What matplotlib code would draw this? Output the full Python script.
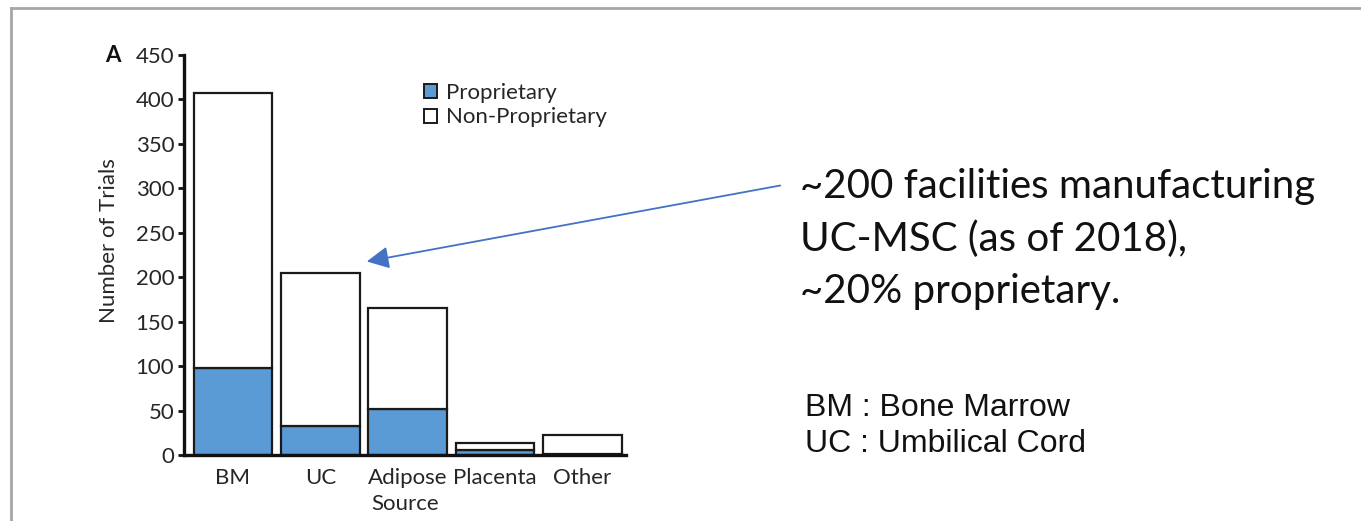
import matplotlib
matplotlib.use("Agg")
import matplotlib.pyplot as plt
from matplotlib.lines import Line2D
from matplotlib.patches import Patch, FancyArrowPatch
import numpy as np

# MSC clinical trials by tissue source
sources = ["BM", "UC", "Adipose", "Placenta", "Other"]
proprietary = [98, 33, 52, 6, 1]
non_proprietary = [309, 172, 113, 7, 21]
y_ticks = [0, 50, 100, 150, 200, 250, 300, 350, 400, 450]

blue = "#5B9BD5"
edge = "#1a1a1a"
text_col = "#262626"
chart_font = ["Lato", "DejaVu Sans"]
fs = 16

fig = plt.figure(figsize=(13.61, 5.21), dpi=100)
ax = fig.add_axes([184 / 1361, 66 / 521, 442 / 1361, 400 / 521])

x = np.arange(len(sources))
ax.bar(x, proprietary, width=0.9, color=blue, edgecolor=edge, linewidth=1.6,
       label="Proprietary", zorder=2)
ax.bar(x, non_proprietary, width=0.9, bottom=proprietary, color="white",
       edgecolor=edge, linewidth=1.6, label="Non-Proprietary", zorder=2)

ax.set_xlim(-0.56, 4.5)
ax.set_ylim(0, 450)
ax.set_yticks(y_ticks)
ax.set_xticks(x)
ax.set_xticklabels(sources, fontfamily=chart_font, fontsize=fs, color=text_col)
for lab in ax.get_yticklabels():
    lab.set_fontfamily(chart_font)
    lab.set_fontsize(fs)
    lab.set_color(text_col)
ax.tick_params(axis="y", direction="out", length=4, width=2, pad=3, color="#111")
ax.tick_params(axis="x", length=0, pad=9)

for side in ("top", "right"):
    ax.spines[side].set_visible(False)
for side in ("left", "bottom"):
    ax.spines[side].set_linewidth(2.4)
    ax.spines[side].set_color("#111")

ax.set_ylabel("Number of Trials", fontfamily=chart_font, fontsize=fs, color=text_col)
ax.yaxis.set_label_coords(-0.148, 0.535)
ax.set_xlabel("Source", fontfamily=chart_font, fontsize=fs, color=text_col, labelpad=5)

# panel letter
fig.text(113 / 1361, 1 - 55 / 521, "A", fontfamily=chart_font, fontweight="bold",
         fontsize=16, ha="center", va="center", color="#111")

# legend with square swatches
handles = [Patch(facecolor=blue, edgecolor=edge, linewidth=1.4, label="Proprietary"),
           Patch(facecolor="white", edgecolor=edge, linewidth=1.4, label="Non-Proprietary")]
fig.legend(handles=handles, loc="upper left", bbox_to_anchor=(424 / 1361, 1 - 83 / 521),
           frameon=False, handlelength=0.6, handleheight=0.6, handletextpad=0.4,
           labelspacing=0.2, borderpad=0, borderaxespad=0,
           prop={"family": chart_font, "size": fs}, labelcolor=text_col)

# annotation text and arrow
fig.text(800 / 1361, 1 - 239 / 521,
         "~200 facilities manufacturing\nUC-MSC (as of 2018),\n~20% proprietary.",
         fontfamily=chart_font, fontsize=29, ha="left", va="center", color="#111",
         linespacing=1.5)
fig.add_artist(FancyArrowPatch(
    (783 / 1361, 1 - 185 / 521), (364 / 1361, 1 - 262 / 521),
    transform=fig.transFigure, arrowstyle="-|>,head_length=9,head_width=4.5",
    color="#4472C4", linewidth=1.3, mutation_scale=1.5))

fig.text(805 / 1361, 1 - 426 / 521, "BM : Bone Marrow\nUC : Umbilical Cord",
         fontfamily=["Liberation Sans", "DejaVu Sans"], fontsize=23, ha="left",
         va="center", color="#111", linespacing=1.27)

# slide frame on the top and left edges
fig.add_artist(Line2D([11 / 1361, 1], [1 - 8 / 521, 1 - 8 / 521],
                      transform=fig.transFigure, color="#A6A6A6", linewidth=2))
fig.add_artist(Line2D([11 / 1361, 11 / 1361], [0, 1 - 8 / 521],
                      transform=fig.transFigure, color="#A6A6A6", linewidth=2))

fig.savefig("out.png", dpi=100)
